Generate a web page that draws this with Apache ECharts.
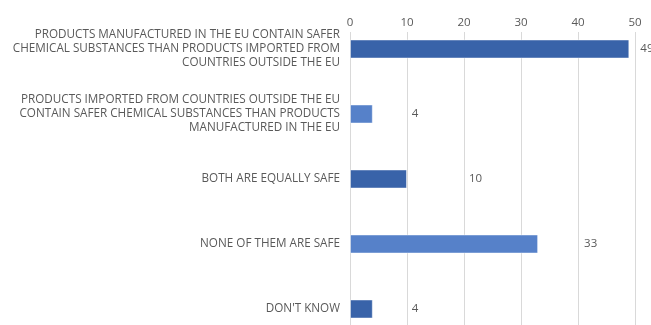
<!DOCTYPE html>
<html><head><meta charset="utf-8">
<script src="https://cdn.jsdelivr.net/npm/echarts@6/dist/echarts.min.js"></script>
<style>html,body{margin:0;padding:0;background:#fff}#c{width:651px;height:325px}</style>
</head><body><div id="c"></div>
<script>
const categories = [
  "PRODUCTS MANUFACTURED IN THE EU CONTAIN SAFER\nCHEMICAL SUBSTANCES THAN PRODUCTS IMPORTED FROM\nCOUNTRIES OUTSIDE THE EU",
  "PRODUCTS IMPORTED FROM COUNTRIES OUTSIDE THE EU\nCONTAIN SAFER CHEMICAL SUBSTANCES THAN PRODUCTS\nMANUFACTURED IN THE EU",
  "BOTH ARE EQUALLY SAFE",
  "NONE OF THEM ARE SAFE",
  "DON'T KNOW"
];
const values = [49, 4, 10, 33, 4];
const axisMin = 0, axisMax = 50, axisStep = 10;

const barColors = ['#3963a9', '#5681c9', '#3963a9', '#5681c9', '#3963a9'];
const labelGap = [11, 39, 62, 46, 39];
const font = '"Open Sans", "Noto Sans", sans-serif';

const chart = echarts.init(document.getElementById('c'), null, {renderer: 'canvas'});
chart.setOption({
  animation: false,
  grid: [
    {left: 350, right: 16, top: 16.5, bottom: -16.5, containLabel: false, outerBoundsMode: 'none'},
    {left: 350, right: 16, top: 32, bottom: 0, containLabel: false, outerBoundsMode: 'none'}
  ],
  xAxis: [
    {gridIndex: 0, type: 'value', min: axisMin, max: axisMax, show: false},
    {gridIndex: 1, type: 'value', position: 'top', min: axisMin, max: axisMax, interval: axisStep,
     axisLine: {show: true, lineStyle: {color: '#d9d9d9'}},
     axisTick: {show: true, length: 4, lineStyle: {color: '#d9d9d9'}},
     splitLine: {show: true, lineStyle: {color: '#d9d9d9'}},
     axisLabel: {color: '#595959', fontSize: 11.5, fontFamily: font, margin: 3}}
  ],
  yAxis: [
    {gridIndex: 0, type: 'category', data: categories, inverse: true,
     axisLine: {show: false}, axisTick: {show: false},
     axisLabel: {color: '#595959', fontSize: 11.7, fontFamily: font, margin: 10, lineHeight: 14, align: 'right'}},
    {gridIndex: 1, type: 'value', show: false}
  ],
  series: [{
    type: 'bar', xAxisIndex: 0, yAxisIndex: 0,
    barWidth: 19,
    data: values.map((v, i) => ({
      value: v,
      itemStyle: {color: barColors[i], borderColor: 'rgba(255,255,255,0.45)', borderWidth: 1},
      label: {show: true, position: 'right', distance: labelGap[i], color: '#595959', fontSize: 11.5, fontFamily: font}
    }))
  }]
});
</script></body></html>
